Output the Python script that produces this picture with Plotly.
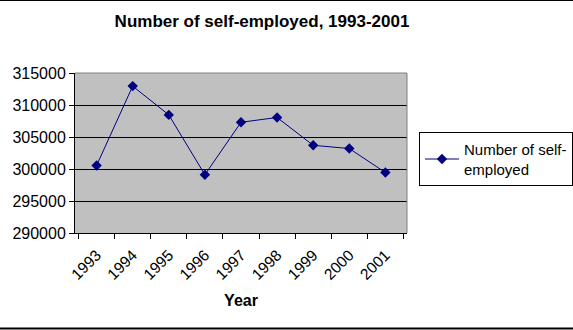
import plotly.graph_objects as go

years = ["1993", "1994", "1995", "1996", "1997", "1998", "1999", "2000", "2001"]
self_employed = [300550, 312950, 308450, 299100, 307300, 308050, 303700, 303200, 299450]
series_name = "Number of self-<br>employed"
title_text = "<b>Number of self-employed, 1993-2001</b>"
x_title = "<b>Year</b>"

W, H = 573, 330
L, R, T, B = 75, 166, 73, 97
pw = W - L - R
ph = H - T - B

def px_to_paper_x(px):
    return (px - L) / pw

def px_to_paper_y(py):
    return (H - B - py) / ph

fig = go.Figure()
fig.add_trace(go.Scatter(
    x=years, y=self_employed, name=series_name, mode="lines+markers",
    line=dict(color="#000080", width=1),
    marker=dict(symbol="diamond", size=8, color="#000080"),
))

font = "Liberation Sans, Arial, sans-serif"
fig.update_layout(
    width=W, height=H,
    margin=dict(l=L, r=R, t=T, b=B, autoexpand=False),
    paper_bgcolor="white", plot_bgcolor="#C0C0C0",
    font=dict(family=font, size=15, color="black"),
    title=dict(text=title_text, x=(262) / W, xanchor="center", y=1 - 21 / H, yanchor="middle",
               font=dict(size=17, family=font, color="black")),
    showlegend=True,
    legend=dict(x=px_to_paper_x(419), xanchor="left", y=px_to_paper_y(132), yanchor="top",
                bordercolor="black", borderwidth=1, bgcolor="white",
                font=dict(size=15, family=font), itemwidth=34,
                tracegroupgap=0),
    xaxis=dict(type="category", tickangle=-45, ticks="outside", tickson="boundaries",
               ticklen=5, tickcolor="black", showline=True, linecolor="black", linewidth=1,
               showgrid=False, tickfont=dict(size=15.5), ticklabelstandoff=6,
               title=dict(text=x_title, font=dict(size=16), standoff=12)),
    yaxis=dict(range=[290000, 315000], dtick=5000, ticks="outside", ticklen=5,
               tickcolor="black", showline=True, linecolor="black", linewidth=1,
               showgrid=True, gridcolor="black", gridwidth=1, tickfont=dict(size=16),
               zeroline=False, tickformat="d"),
)

shapes = [
    dict(type="line", xref="paper", yref="paper", x0=0, x1=1, y0=1, y1=1,
         line=dict(color="#808080", width=1)),
    dict(type="line", xref="paper", yref="paper", x0=1, x1=1, y0=0, y1=1,
         line=dict(color="#808080", width=1)),
    dict(type="line", xref="paper", yref="paper", x0=px_to_paper_x(0), x1=px_to_paper_x(W),
         y0=px_to_paper_y(0.5), y1=px_to_paper_y(0.5), line=dict(color="black", width=1)),
    dict(type="line", xref="paper", yref="paper", x0=px_to_paper_x(0), x1=px_to_paper_x(W),
         y0=px_to_paper_y(328.5), y1=px_to_paper_y(328.5), line=dict(color="black", width=2)),
]
fig.update_layout(shapes=shapes)

fig.write_html("out.html")
